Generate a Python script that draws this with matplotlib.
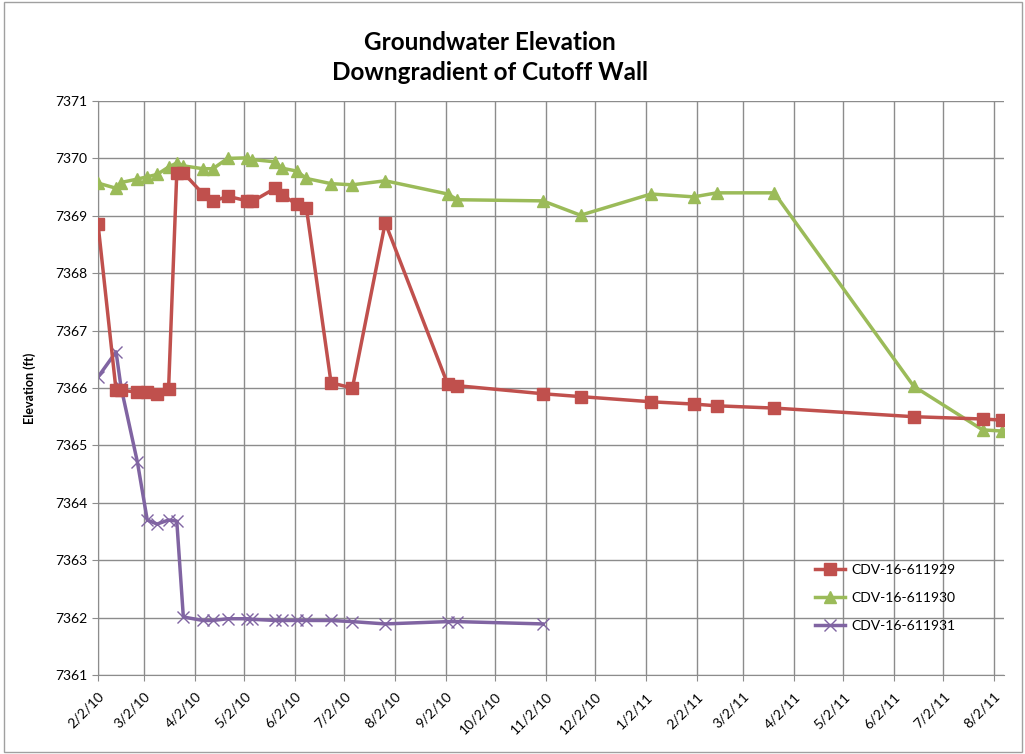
import matplotlib
matplotlib.use('Agg')
import matplotlib.pyplot as plt
import matplotlib.dates as mdates
from matplotlib.patches import Rectangle
import pandas as pd

plt.rcParams['font.family'] = ['Lato', 'DejaVu Sans']

# sample dates (shared by the wells)
dates = pd.to_datetime([
    '2010-02-02', '2010-02-13', '2010-02-16', '2010-02-26', '2010-03-04', '2010-03-10',
    '2010-03-17', '2010-03-22', '2010-03-26', '2010-04-07', '2010-04-13', '2010-04-22',
    '2010-05-04', '2010-05-07', '2010-05-21', '2010-05-25', '2010-06-03', '2010-06-09',
    '2010-06-24', '2010-07-07', '2010-07-27', '2010-09-03', '2010-09-09', '2010-10-31',
    '2010-11-23', '2011-01-05', '2011-01-31', '2011-02-14', '2011-03-21', '2011-06-14',
    '2011-07-26', '2011-08-07',
])

well_929 = [7368.86, 7365.96, 7365.96, 7365.93, 7365.93, 7365.90,
            7365.98, 7369.75, 7369.75, 7369.38, 7369.25, 7369.34,
            7369.26, 7369.25, 7369.48, 7369.37, 7369.20, 7369.13,
            7366.09, 7366.00, 7368.88, 7366.07, 7366.04, 7365.90,
            7365.85, 7365.76, 7365.72, 7365.69, 7365.65, 7365.50,
            7365.46, 7365.44]

well_930 = [7369.57, 7369.48, 7369.58, 7369.64, 7369.68, 7369.72,
            7369.85, 7369.92, 7369.87, 7369.82, 7369.82, 7370.00,
            7370.01, 7369.98, 7369.94, 7369.83, 7369.78, 7369.65,
            7369.56, 7369.54, 7369.61, 7369.38, 7369.28, 7369.26,
            7369.01, 7369.38, 7369.33, 7369.40, 7369.40, 7366.03,
            7365.27, 7365.25]

well_931 = [7366.19, 7366.63, 7366.02, 7364.71, 7363.70, 7363.63,
            7363.70, 7363.68, 7362.01, 7361.95, 7361.95, 7361.98,
            7361.98, 7361.97, 7361.95, 7361.95, 7361.95, 7361.95,
            7361.95, 7361.93, 7361.89, 7361.93, 7361.93, 7361.89]

labels = ['CDV-16-611929', 'CDV-16-611930', 'CDV-16-611931']
tick_dates = pd.date_range('2010-02-01', '2011-08-01', freq='MS') + pd.Timedelta(days=1)

red = '#C0504D'
green = '#9BBB59'
purple = '#8064A2'
grid_c = '#8c8c8c'

fig = plt.figure(figsize=(10.25, 7.54), dpi=100)
ax = fig.add_axes([98 / 1025, 1 - 675 / 754, (1004 - 98) / 1025, (675 - 101) / 754])

# chart area border
fig.patches.append(Rectangle((0.004, 0.002), 0.993, 0.996, transform=fig.transFigure,
                             fill=False, edgecolor='#a0a0a0', linewidth=1))

ax.plot(dates, well_929, color=red, linewidth=2.5, marker='s', markersize=8,
        label=labels[0], zorder=4)
ax.plot(dates, well_930, color=green, linewidth=2.5, marker='^', markersize=8,
        label=labels[1], zorder=3)
ax.plot(dates[:len(well_931)], well_931, color=purple, linewidth=2.5, marker='x',
        markersize=8, markeredgewidth=1, label=labels[2], zorder=2)

ax.set_xlim(pd.Timestamp('2010-02-02'), pd.Timestamp('2011-08-08'))
ax.set_ylim(7361, 7371)
ax.set_yticks(range(7361, 7372))
ax.set_xticks(tick_dates)
ax.xaxis.set_major_formatter(mdates.DateFormatter('%-m/%-d/%y'))
for lbl in ax.get_xticklabels():
    lbl.set_rotation(45)
    lbl.set_ha('right')
    lbl.set_rotation_mode('anchor')
ax.tick_params(axis='both', labelsize=10, length=4, colors='black')
ax.tick_params(axis='both', color=grid_c)
ax.tick_params(axis='x', pad=7)
ax.grid(True, color=grid_c, linewidth=1)
ax.set_axisbelow(True)
for s in ['top', 'right']:
    ax.spines[s].set_visible(False)
for s in ['left', 'bottom']:
    ax.spines[s].set_color(grid_c)

ax.set_ylabel('Elevation (ft)', fontsize=9, fontweight='bold', labelpad=14)

fig.text(490 / 1025, 1 - 42 / 754, 'Groundwater Elevation', ha='center', va='center',
         fontsize=17.5, fontweight='bold')
fig.text(490 / 1025, 1 - 72 / 754, 'Downgradient of Cutoff Wall', ha='center', va='center',
         fontsize=17.5, fontweight='bold')

leg = ax.legend(loc='lower left', bbox_to_anchor=(0.785, 0.065), frameon=False, fontsize=10,
                handlelength=2.2, handletextpad=0.4, labelspacing=1.15, borderaxespad=0)

fig.savefig('out.png', dpi=100)
